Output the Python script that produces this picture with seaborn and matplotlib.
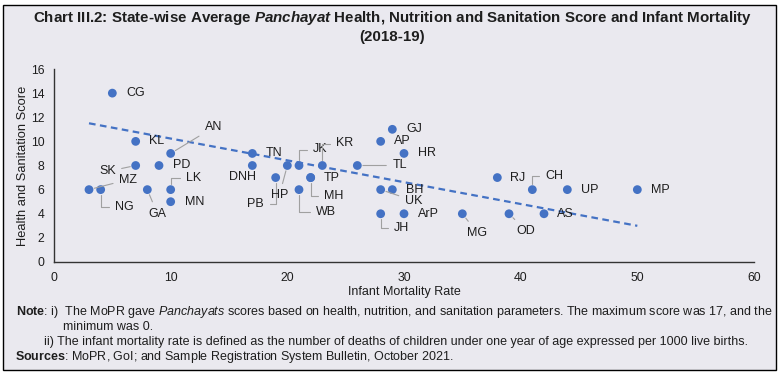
import numpy             as np
import matplotlib
matplotlib.use('Agg')
import matplotlib.pyplot as plt
import seaborn           as sns
import pandas            as pd
from matplotlib import font_manager
from matplotlib.patches import Rectangle

# ---- data ----
states = ['CG', 'KL', 'AN', 'SK', 'PD', 'MZ', 'NG', 'GA', 'LK', 'MN',
          'DNH', 'TN', 'PB', 'HP', 'JK', 'KR', 'TP', 'MH', 'WB',
          'TL', 'GJ', 'AP', 'HR', 'BH', 'UK', 'JH', 'ArP',
          'MG', 'RJ', 'CH', 'UP', 'MP', 'OD', 'AS']
imr    = [5, 7, 10, 7, 9, 3, 4, 8, 10, 10,
          17, 17, 19, 20, 21, 23, 22, 22, 21,
          26, 29, 28, 30, 29, 28, 28, 30,
          35, 38, 41, 44, 50, 39, 42]
score  = [14, 10, 9, 8, 8, 6, 6, 6, 6, 5,
          8, 9, 7, 8, 8, 8, 7, 7, 6,
          8, 11, 10, 9, 6, 6, 4, 4,
          4, 7, 6, 6, 6, 4, 4]

# trend line as drawn in the chart (end points)
trend_x = [3, 50]
trend_y = [11.5, 3.0]

# label placement: offset in pixels, alignment, leader line (None / 'line' / 'elbow')
lab_pos = {
    'CG': (14, 0, 'left', None),    'KL': (13, 0, 'left', None),
    'AN': (34, 26, 'left', 'line'), 'SK': (-20, -6, 'right', 'line'),
    'PD': (14, 0, 'left', None),    'MZ': (30, 10, 'left', 'line'),
    'NG': (14, -17, 'left', 'elbow'), 'GA': (10, -24, 'center', 'line'),
    'LK': (15, 12, 'left', 'elbow'), 'MN': (14, 0, 'left', None),
    'DNH': (-10, -12, 'center', None), 'TN': (13, 0, 'left', None),
    'PB': (-12, -26, 'right', 'elbow'), 'HP': (-8, -30, 'center', 'line'),
    'JK': (14, 16, 'left', 'elbow'), 'KR': (14, 22, 'left', 'elbow'),
    'TP': (13, 0, 'left', None),    'MH': (13, -18, 'left', 'elbow'),
    'WB': (17, -22, 'left', 'elbow'), 'TL': (35, 0, 'left', 'line'),
    'GJ': (14, 0, 'left', None),    'AP': (13, 0, 'left', None),
    'HR': (14, 0, 'left', None),    'BH': (14, 0, 'left', None),
    'UK': (24, -11, 'left', 'line'), 'JH': (13, -14, 'left', 'elbow'),
    'ArP': (14, 0, 'left', None),   'MG': (15, -19, 'center', 'line'),
    'RJ': (13, 0, 'left', None),    'CH': (13, 14, 'left', 'elbow'),
    'UP': (14, 0, 'left', None),    'MP': (14, 0, 'left', None),
    'OD': (17, -17, 'center', 'line'), 'AS': (13, 0, 'left', None),
}

df = pd.DataFrame({'state': states, 'imr': imr, 'score': score})

W, H = 783, 379
BG   = '#EAE9EF'
BLUE = '#4472C4'
INK  = '#1E1E1E'

sns.set_theme(style='white')
names  = {f.name for f in font_manager.fontManager.ttflist}
narrow = 'Liberation Sans Narrow' if 'Liberation Sans Narrow' in names else 'Liberation Sans'
plt.rcParams['font.family'] = ['Liberation Sans', 'DejaVu Sans']
plt.rcParams['mathtext.fontset'] = 'custom'
plt.rcParams['mathtext.rm'] = narrow
plt.rcParams['mathtext.it'] = narrow + ':italic'
plt.rcParams['mathtext.bf'] = narrow + ':bold'
plt.rcParams['mathtext.bfit'] = narrow + ':italic:bold'

fig = plt.figure(figsize=(W / 100, H / 100), dpi=100, facecolor='white')
fig.patches.append(Rectangle((3 / W, 1 - 370 / H), 773 / W, 365 / H,
                             transform=fig.transFigure, facecolor=BG,
                             edgecolor='black', linewidth=1, zorder=-10))

ax = fig.add_axes([54 / W, 1 - 262 / H, 700 / W, 193 / H])
ax.set_facecolor('none')

sns.lineplot(x=trend_x, y=trend_y, ax=ax, color=BLUE, linewidth=1.6,
             linestyle=(0, (3, 2)), zorder=2)
sns.scatterplot(data=df, x='imr', y='score', ax=ax, color=BLUE, s=40,
                edgecolor='none', zorder=3)

for st, x, y in zip(states, imr, score):
    dx, dy, ha, line = lab_pos[st]
    arrow = None
    if line:
        conn  = 'angle,angleA=0,angleB=90,rad=0' if line == 'elbow' else 'arc3'
        arrow = dict(arrowstyle='-', color='#A0A0A0', lw=0.8, shrinkA=2,
                     shrinkB=4, connectionstyle=conn)
    ax.annotate(st, (x, y), xytext=(dx, dy), textcoords='offset pixels',
                ha=ha, va='center', fontsize=9, color=INK,
                arrowprops=arrow, zorder=4)

ax.set_xlim(0, 60)
ax.set_ylim(0, 16)
ax.set_xticks(range(0, 61, 10))
ax.set_yticks(range(0, 17, 2))
sns.despine(ax=ax)
for s in ['left', 'bottom']:
    ax.spines[s].set_color('#333333')
    ax.spines[s].set_linewidth(1.0)
ax.tick_params(axis='both', length=4, width=0.8, color='#333333',
               labelsize=8.8, labelcolor=INK, pad=3, direction='out')
ax.set_xlabel('Infant Mortality Rate', fontsize=9, color=INK, labelpad=2)
ax.set_ylabel('Health and Sanitation Score', fontsize=9.3, color=INK, labelpad=1)

# title and notes
def ftext(x, y, s, **kw):
    fig.text(x / W, 1 - y / H, s, va='center', family=[narrow, 'DejaVu Sans'], **kw)

ftext(392, 18, r'Chart III.2: State-wise Average $\mathbfit{Panchayat}$ Health, Nutrition and Sanitation Score and Infant Mortality',
      ha='center', fontsize=10.9, fontweight='bold', color=INK)
ftext(392, 37, '(2018-19)', ha='center', fontsize=10.9, fontweight='bold', color=INK)

ftext(16, 312, r'$\mathbf{Note}$: i)  The MoPR gave $\mathit{Panchayats}$ scores based on health, nutrition, and sanitation parameters. The maximum score was 17, and the',
      ha='left', fontsize=9, color=INK)
ftext(63, 327, 'minimum was 0.', ha='left', fontsize=9, color=INK)
ftext(44, 342, 'ii) The infant mortality rate is defined as the number of deaths of children under one year of age expressed per 1000 live births.',
      ha='left', fontsize=9, color=INK)
ftext(15, 357, r'$\mathbf{Sources}$: MoPR, GoI; and Sample Registration System Bulletin, October 2021.',
      ha='left', fontsize=9, color=INK)

fig.savefig('out.png', dpi=100, facecolor='white')
